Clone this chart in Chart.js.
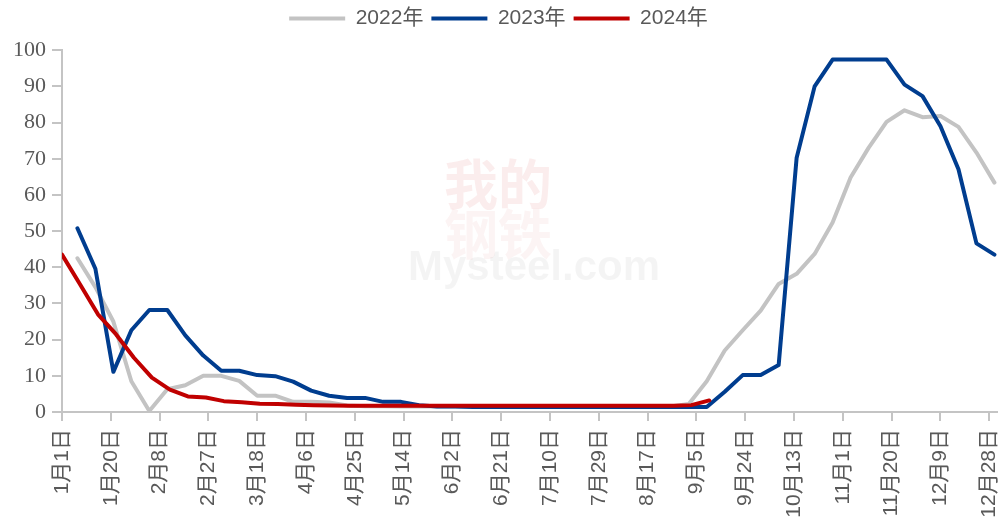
<!DOCTYPE html>
<html>
<head>
<meta charset="utf-8">
<script src="https://cdn.jsdelivr.net/npm/chart.js@4.4.1/dist/chart.umd.min.js"></script>
<style>
  html, body { margin: 0; padding: 0; background: #fff; }
</style>
</head>
<body>
<canvas id="lineChart" width="1002" height="524"></canvas>
<script>
// eje x: dias del año (año no bisiesto), etiquetas cada 19 dias
const tickLabels = ['1月1日', '1月20日', '2月8日', '2月27日', '3月18日', '4月6日', '4月25日',
  '5月14日', '6月2日', '6月21日', '7月10日', '7月29日', '8月17日', '9月5日', '9月24日',
  '10月13日', '11月1日', '11月20日', '12月9日', '12月28日'];
const tickDays = [0, 19, 38, 57, 76, 95, 114, 133, 152, 171, 190, 209, 228, 247, 266, 285, 304, 323, 342, 361];

// datos semanales, primer dia de cada serie
const start2022 = 6;
const start2023 = 6;
const start2024 = 0;

const values2022 = [42.5, 34.5, 25, 8.5, 0.3, 6.3, 7.4, 10, 10, 8.6, 4.5, 4.5, 2.8, 2.8, 2.6, 1.8,
  1.6, 1.6, 1.5, 1.5, 1.5, 1.5, 1.5, 1.5, 1.5, 1.5, 1.5, 1.5, 1.5, 1.5, 1.5, 1.5, 1.5, 1.5,
  2.2, 8.5, 17, 22.6, 28, 35.4, 38.2, 43.7, 52.4, 64.8, 73, 80.2, 83.4, 81.5, 81.8, 78.8, 71.7, 63.4];

const values2023 = [50.8, 39.6, 11.1, 22.6, 28.2, 28.2, 21.2, 15.6, 11.4, 11.4, 10.2, 9.9, 8.4, 5.9,
  4.5, 3.9, 3.9, 2.8, 2.8, 1.9,
  1.5, 1.5, 1.4, 1.4, 1.4, 1.4, 1.4, 1.4, 1.4, 1.4, 1.4, 1.4, 1.4, 1.4, 1.4, 1.4,
  5.6, 10.2, 10.2, 13, 70.3, 90, 97.4, 97.4, 97.4, 97.4, 90.5, 87.3, 79, 67.1, 46.6, 43.5];

const values2024 = [43.5, 35.3, 27, 21.5, 15, 9.5, 6.2, 4.3, 4.0, 3.0, 2.7, 2.3, 2.2, 2.0, 1.9, 1.8,
  1.7, 1.7, 1.7, 1.7, 1.7, 1.7, 1.7, 1.7, 1.7, 1.7, 1.7, 1.7, 1.7, 1.7, 1.7, 1.7, 1.7, 1.7, 1.7,
  1.9, 3.2];

function weekly(start, values) {
  return values.map((v, i) => ({ x: start + i * 7, y: v }));
}

const axisColor = '#c4c4c4';
const textColor = '#595959';
const sansFont = 'Arial, "Liberation Sans", "Noto Sans CJK SC"';

// marca de agua
const watermark = {
  id: 'watermark',
  beforeDatasetsDraw(chart) {
    const c = chart.ctx;
    c.save();
    c.textAlign = 'center';
    c.textBaseline = 'middle';
    c.font = 'bold 54px "Noto Sans CJK SC"';
    c.fillStyle = 'rgba(200, 30, 30, 0.08)';
    c.fillText('我的', 498, 184);
    c.fillStyle = 'rgba(200, 30, 30, 0.05)';
    c.fillText('钢铁', 498, 234);
    c.font = 'bold 42px Arial, "Liberation Sans"';
    c.fillStyle = 'rgba(0, 0, 0, 0.045)';
    c.fillText('Mysteel.com', 534, 268);
    c.restore();
  }
};

const data = {
  datasets: [{
    label: '2022年',
    data: weekly(start2022, values2022),
    borderColor: '#c3c3c3',
    backgroundColor: '#c3c3c3',
    borderWidth: 4,
    order: 3
  },
  {
    label: '2023年',
    data: weekly(start2023, values2023),
    borderColor: '#003d8f',
    backgroundColor: '#003d8f',
    borderWidth: 4,
    order: 2
  },
  {
    label: '2024年',
    data: weekly(start2024, values2024),
    borderColor: '#c00000',
    backgroundColor: '#c00000',
    borderWidth: 4,
    order: 1
  }]
};

const config = {
  type: 'line',
  data: data,
  plugins: [watermark],
  options: {
    responsive: false,
    animation: false,
    devicePixelRatio: 1,
    layout: { padding: { top: 0, right: 5, left: 0, bottom: 0 } },
    elements: {
      point: { radius: 0 },
      line: { tension: 0, borderJoinStyle: 'round', borderCapStyle: 'round' }
    },
    plugins: {
      legend: {
        position: 'top',
        labels: {
          usePointStyle: true,
          pointStyle: 'line',
          pointStyleWidth: 56,
          padding: 8,
          color: textColor,
          font: { family: sansFont, size: 21 },
          sort: (a, b) => a.datasetIndex - b.datasetIndex
        }
      },
      // espacio entre leyenda y grafica
      subtitle: {
        display: true,
        text: '',
        weight: 500,
        font: { size: 1 },
        padding: { top: 0, bottom: 10 }
      },
      tooltip: { enabled: false }
    },
    scales: {
      x: {
        type: 'linear',
        min: 0,
        max: 364,
        afterBuildTicks: (scale) => {
          scale.ticks = tickDays.map(d => ({ value: d }));
        },
        afterFit: (scale) => {
          scale.height = 112;
          scale.paddingRight = 0;
          scale.paddingLeft = 0;
        },
        grid: { display: true, drawOnChartArea: false, drawTicks: true, tickLength: 9, color: axisColor, lineWidth: 2 },
        border: { display: true, color: axisColor, width: 2 },
        ticks: {
          autoSkip: false,
          minRotation: 90,
          maxRotation: 90,
          padding: 8,
          color: textColor,
          font: { family: sansFont, size: 21 },
          callback: (value) => tickLabels[tickDays.indexOf(value)]
        }
      },
      y: {
        min: 0,
        max: 100,
        afterFit: (scale) => { scale.width = 62; },
        grid: { display: true, drawOnChartArea: false, drawTicks: true, tickLength: 10, color: axisColor, lineWidth: 2 },
        border: { display: true, color: axisColor, width: 2 },
        ticks: {
          stepSize: 10,
          padding: 6,
          color: textColor,
          font: { family: '"Liberation Serif", "Times New Roman", serif', size: 22 }
        }
      }
    }
  }
};

new Chart(document.getElementById('lineChart').getContext('2d'), config);
</script>
</body>
</html>
